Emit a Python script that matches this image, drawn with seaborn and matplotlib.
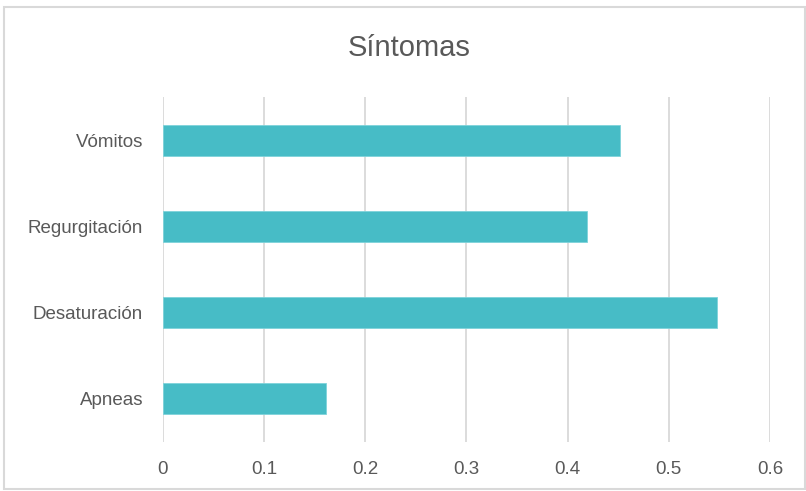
import matplotlib.pyplot as plt
import matplotlib.patches as patches
import pandas as pd
import seaborn as sns

sintomas = ['Vómitos', 'Regurgitación', 'Desaturación', 'Apneas']
proporcion = [0.452, 0.419, 0.548, 0.161]
x_ticks = [0, 0.1, 0.2, 0.3, 0.4, 0.5, 0.6]
x_tick_labels = ['0', '0.1', '0.2', '0.3', '0.4', '0.5', '0.6']

df = pd.DataFrame({'sintoma': sintomas, 'proporcion': proporcion})

sns.set_style('white')
plt.rcParams['font.family'] = ['Liberation Sans', 'DejaVu Sans']

fig = plt.figure(figsize=(8.06, 4.91), dpi=100)
ax = fig.add_axes([0.2022, 0.0998, 0.7531, 0.7026])

sns.barplot(data=df, x='proporcion', y='sintoma', orient='h', color='#47BCC6',
            saturation=1, width=0.36, edgecolor='#7FD3DA', linewidth=0.6, ax=ax)

ax.set_xlim(0, 0.6)
ax.set_ylim(3.5, -0.5)
ax.set_xticks(x_ticks)
ax.set_xticklabels(x_tick_labels)
ax.xaxis.grid(True, color='#D9D9D9', linewidth=1.3)
ax.set_axisbelow(True)
for s in ax.spines.values():
    s.set_visible(False)
ax.tick_params(axis='both', length=0, labelsize=13.5, colors='#595959')
ax.tick_params(axis='x', pad=13.5)
ax.tick_params(axis='y', pad=14.4)
ax.set_xlabel('')
ax.set_ylabel('')

fig.text(0.508, 0.902, 'Síntomas', ha='center', va='center', fontsize=21, color='#595959')

# borde del gráfico
fig.patches.append(patches.Rectangle((0.005, 0.004), 0.994, 0.982, transform=fig.transFigure,
                                     fill=False, edgecolor='#D9D9D9', linewidth=1.5))

plt.savefig('out.png', dpi=100)
